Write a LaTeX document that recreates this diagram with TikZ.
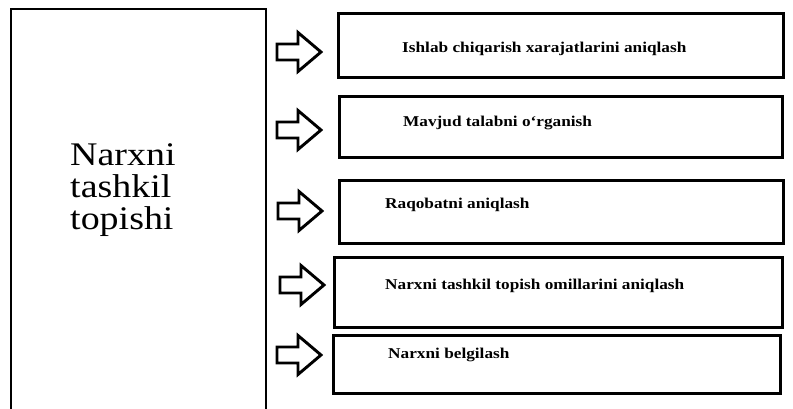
\documentclass[tikz,border=0pt]{standalone}
\usepackage{fontspec}
\setmainfont[FakeStretch=1.15]{Liberation Serif}
\begin{document}
\begin{tikzpicture}[x=1pt,y=-1pt,
  mainbox/.style={draw, line width=2.8pt, rectangle, inner sep=0pt},
  stepbox/.style={draw, line width=3pt, rectangle, inner sep=0pt},
  steptext/.style={anchor=base west, inner sep=0pt, font=\fontsize{15}{18}\selectfont\bfseries},
  arrowline/.style={draw, line width=2.9pt, line join=miter, fill=white},
  blockarrow/.pic={
    \path[arrowline] (0,-8) -- (21,-8) -- (21,-19.5) -- (44,0) -- (21,19.5) -- (21,8) -- (0,8) -- cycle;
  }]
  \clip (0,0) rectangle (793,409);
  \fill[white] (0,0) rectangle (793,409);

  % left block, open at the bottom edge
  \node[mainbox, minimum width=255pt, minimum height=421pt] (main) at (138.5,219.5) {};
  \node[anchor=north west, inner sep=0pt, align=left,
        font=\fontsize{33}{32}\selectfont] (mainlabel) at (70,143)
        {Narxni\\tashkil\\topishi};

  % right-hand steps
  \node[stepbox, minimum width=445pt, minimum height=64pt] (b1) at (560.5,46) {};
  \node[stepbox, minimum width=443pt, minimum height=61pt] (b2) at (560.5,127.5) {};
  \node[stepbox, minimum width=444pt, minimum height=62pt] (b3) at (561,212) {};
  \node[stepbox, minimum width=448pt, minimum height=70pt] (b4) at (558,292) {};
  \node[stepbox, minimum width=447pt, minimum height=58pt] (b5) at (556.5,364) {};

  \node[steptext] (t1) at (402,53) {Ishlab chiqarish xarajatlarini aniqlash};
  \node[steptext] (t2) at (403,127) {Mavjud talabni o`rganish};
  \node[steptext] (t3) at (385,208) {Raqobatni aniqlash};
  \node[steptext] (t4) at (385,289) {Narxni tashkil topish omillarini aniqlash};
  \node[steptext] (t5) at (388,358) {Narxni belgilash};

  % block arrows
  \pic (a1) at (277,52) {blockarrow};
  \pic (a2) at (277,130) {blockarrow};
  \pic (a3) at (278,211) {blockarrow};
  \pic (a4) at (280,285) {blockarrow};
  \pic (a5) at (277,355) {blockarrow};
\end{tikzpicture}
\end{document}
